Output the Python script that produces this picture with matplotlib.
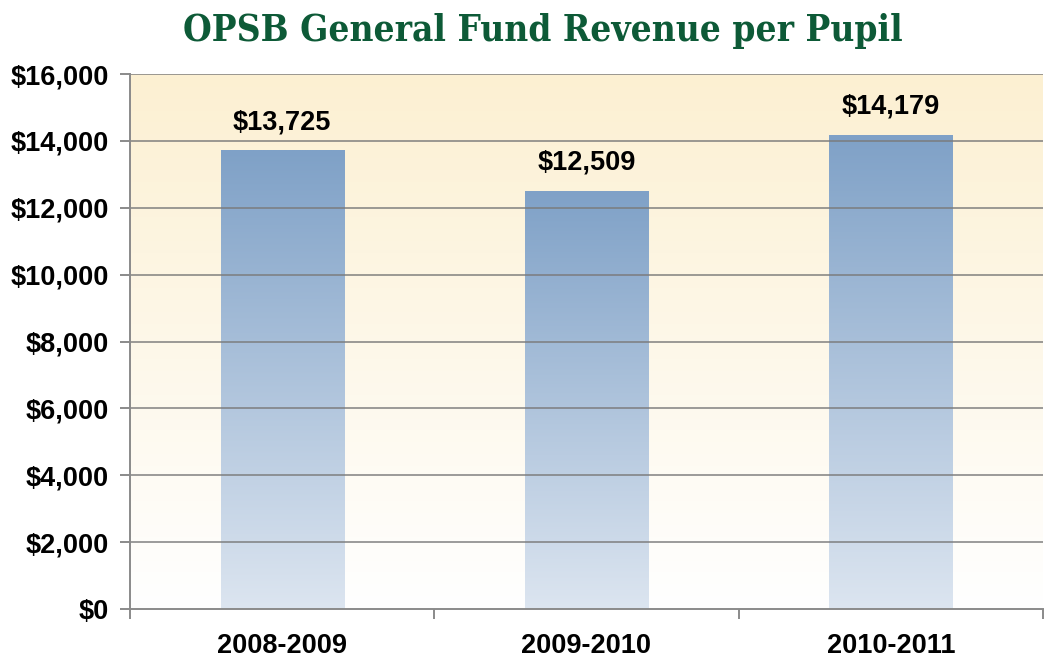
import numpy as np
import matplotlib.pyplot as plt
from matplotlib.colors import LinearSegmentedColormap

years = ["2008-2009", "2009-2010", "2010-2011"]
revenue = [13725, 12509, 14179]
yticks = [0, 2000, 4000, 6000, 8000, 10000, 12000, 14000, 16000]

plt.rcParams['font.family'] = ['Liberation Sans', 'DejaVu Sans']

fig = plt.figure(figsize=(10.44, 6.61), dpi=100)
ax = fig.add_axes([0.1245, 0.0787, 0.8745, 0.8093])

# background gradient: pale yellow at top, white at bottom
bg = LinearSegmentedColormap.from_list("bg", ["#ffffff", "#fcf0d2"])
ax.imshow(np.linspace(0, 1, 256).reshape(-1, 1), cmap=bg, aspect="auto",
          origin="lower", extent=[0, 1, 0, 1], transform=ax.transAxes, zorder=0)

x = np.arange(len(years))
bars = ax.bar(x, revenue, width=0.405, color="none", edgecolor="none", zorder=2)

barcm = LinearSegmentedColormap.from_list("bar", ["#dce5f0", "#7fa1c7"])
for b in bars:
    x0, w, h = b.get_x(), b.get_width(), b.get_height()
    im = ax.imshow(np.linspace(0, 1, 256).reshape(-1, 1), cmap=barcm, aspect="auto",
                   origin="lower", extent=[x0, x0 + w, 0, h], zorder=2)
    im.set_clip_path(b)
    ax.text(b.get_x() + w / 2, h + 450, "${:,}".format(h), ha="center", va="bottom",
            fontsize=19.5, fontweight="bold", zorder=4)

for t in yticks[1:]:
    ax.axhline(t, color="#7a7a7a", lw=1.4, alpha=0.75, zorder=3)

ax.set_xlim(-0.5, 2.5)
ax.set_ylim(0, 16000)
ax.set_yticks(yticks)
ax.set_yticklabels(["${:,}".format(t) for t in yticks], fontsize=19.5, fontweight="bold")
ax.set_xticks(x)
ax.set_xticklabels(years, fontsize=19.5, fontweight="bold")
ax.tick_params(axis="x", length=0, pad=17)
ax.tick_params(axis="y", length=7, width=1.4, color="#8a8a8a", pad=8)

# category boundary ticks on x axis
ax.set_xticks([-0.5, 0.5, 1.5, 2.5], minor=True)
ax.tick_params(axis="x", which="minor", length=7, width=1.4, color="#8a8a8a")

for s in ["top", "right"]:
    ax.spines[s].set_visible(False)
for s in ["left", "bottom"]:
    ax.spines[s].set_color("#8a8a8a")
    ax.spines[s].set_linewidth(1.4)
    ax.spines[s].set_zorder(5)

fig.text(0.52, 0.953, "OPSB General Fund Revenue per Pupil", ha="center", va="center",
         fontsize=26.5, fontweight="bold", color="#0d5a37", family="DejaVu Serif",
         fontstretch="condensed")

fig.savefig("out.png", dpi=100)
